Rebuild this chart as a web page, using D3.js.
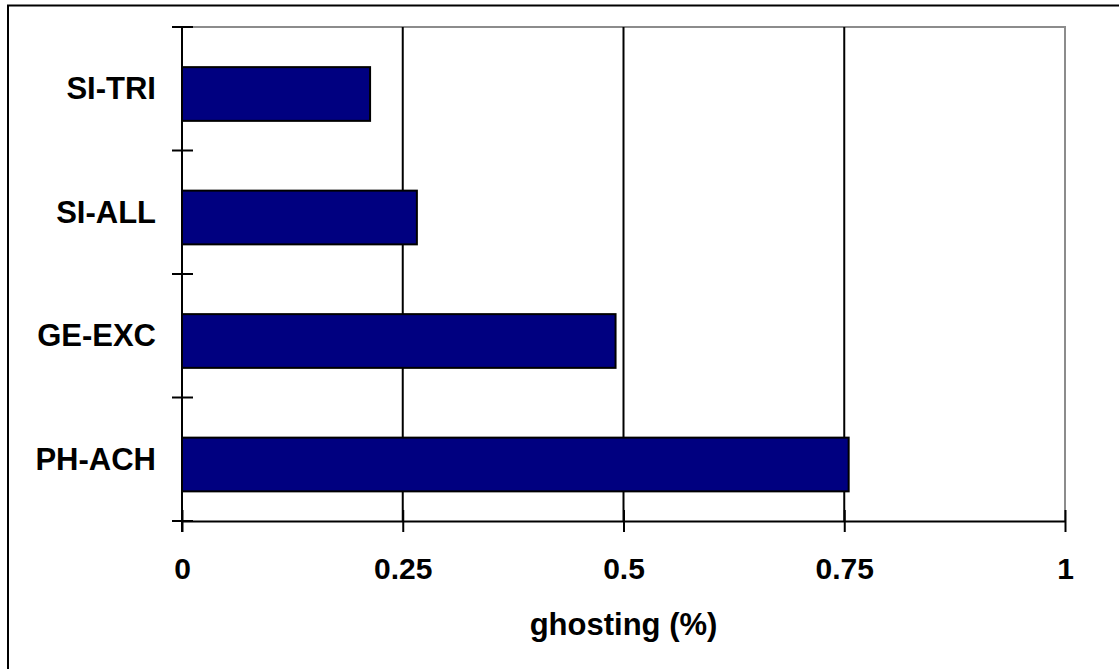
<!DOCTYPE html>
<html>
<head>
<meta charset="utf-8">
<script src="https://cdn.jsdelivr.net/npm/d3@7"></script>
<style>
  html, body { margin: 0; padding: 0; background: #fff; }
  svg { display: block; }
  text { font-family: "Liberation Sans", Arial, sans-serif; font-weight: bold; fill: #000; }
</style>
</head>
<body>
<svg id="chart" width="1119" height="669"></svg>
<script>
const categories = ["SI-TRI", "SI-ALL", "GE-EXC", "PH-ACH"];
const values = [0.213, 0.266, 0.491, 0.755];
const xTicks = [0, 0.25, 0.5, 0.75, 1];
const xTickLabels = ["0", "0.25", "0.5", "0.75", "1"];
const xTitle = "ghosting (%)";

(function () {
const svg = d3.select("#chart");
const pL = 182, pR = 1065, pT = 27, pB = 521;

// outer chart frame (extends beyond the picture on right and bottom)
svg.append("rect").attr("x", 8).attr("y", 5.5).attr("width", 1130).attr("height", 680)
  .attr("fill", "#fff").attr("stroke", "#000").attr("stroke-width", 2);

const x = d3.scaleLinear().domain([0, 1]).range([pL, pR]);
const y = d3.scaleBand().domain(categories).range([pT, pB]).paddingInner(0).paddingOuter(0);

// plot area border (gray top/right)
svg.append("path")
  .attr("d", `M${pL},${pT}H${pR}V${pB}`)
  .attr("fill", "none").attr("stroke", "#8c8c8c").attr("stroke-width", 2);

// gridlines
svg.append("g").selectAll("line").data(xTicks.filter(d => d > 0 && d < 1)).join("line")
  .attr("x1", d => x(d)).attr("x2", d => x(d))
  .attr("y1", pT).attr("y2", pB)
  .attr("stroke", "#000").attr("stroke-width", 2);

// bars
const bw = y.bandwidth();
svg.append("g").selectAll("rect").data(categories).join("rect")
  .attr("x", x(0))
  .attr("y", d => y(d) + bw * 0.325)
  .attr("width", (d, i) => x(values[i]) - x(0))
  .attr("height", bw * 0.435)
  .attr("fill", "#000080")
  .attr("stroke", "#000").attr("stroke-width", 2);

// x axis
const xAxis = d3.axisBottom(x).tickValues(xTicks).tickFormat((d, i) => xTickLabels[i])
  .tickSizeInner(11).tickSizeOuter(0).tickPadding(36);
const gx = svg.append("g").attr("transform", `translate(0,${pB})`).call(xAxis);
gx.select(".domain").attr("stroke", "#000").attr("stroke-width", 2);
gx.selectAll(".tick line").attr("stroke", "#000").attr("stroke-width", 2).attr("y1", -11);
gx.selectAll(".tick text").attr("font-size", 30).attr("font-family", "Liberation Sans, Arial, sans-serif")
  .attr("font-weight", "bold").attr("dy", 0).attr("y", 58);

// y axis (category boundary tick marks)
svg.append("line").attr("x1", pL).attr("x2", pL).attr("y1", pT).attr("y2", pB + 11)
  .attr("stroke", "#000").attr("stroke-width", 2);
const boundaries = categories.map(c => y(c)).concat([pB]);
svg.append("g").selectAll("line").data(boundaries).join("line")
  .attr("x1", pL - 10).attr("x2", pL + 11)
  .attr("y1", d => d).attr("y2", d => d)
  .attr("stroke", "#000").attr("stroke-width", 2);

// category labels
svg.append("g").selectAll("text").data(categories).join("text")
  .attr("x", 156)
  .attr("y", d => y(d) + bw / 2 + 10.5)
  .attr("text-anchor", "end")
  .attr("font-size", 31)
  .text(d => d);

// x title
svg.append("text").attr("x", (pL + pR) / 2).attr("y", 635)
  .attr("text-anchor", "middle").attr("font-size", 31).text(xTitle);
})();
</script>
</body>
</html>
